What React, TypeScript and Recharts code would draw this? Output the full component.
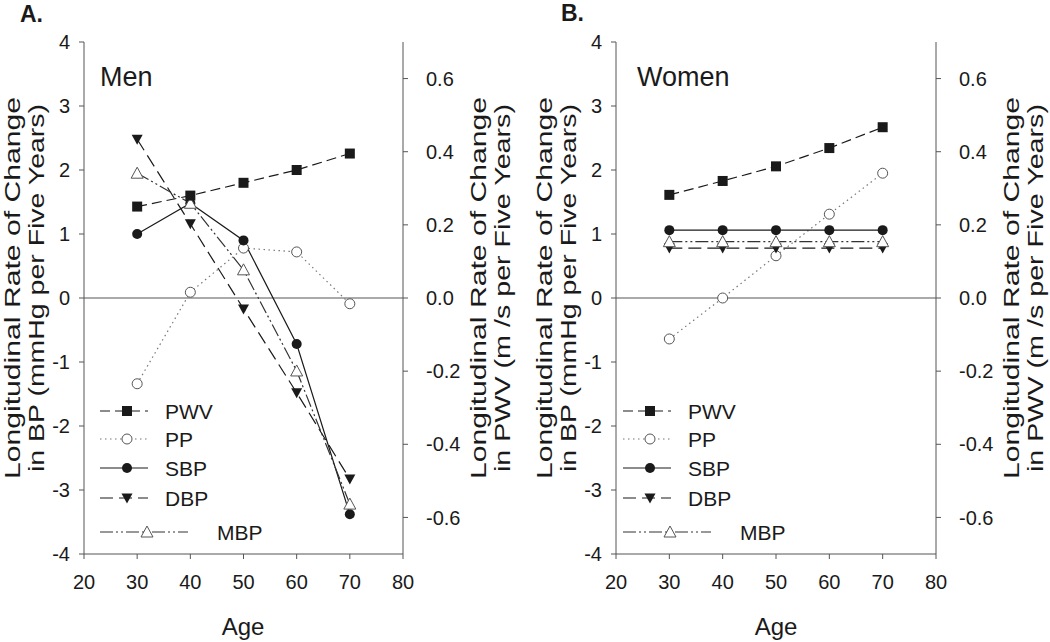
import React from 'react';
import { LineChart, Line, XAxis, YAxis, ReferenceLine, Legend } from 'recharts';

// values (BP in mmHg per 5 yrs, PWV in m/s per 5 yrs)
const ages = [30, 40, 50, 60, 70];

const menPWV = [0.25, 0.28, 0.315, 0.35, 0.395];
const menPP = [-1.34, 0.09, 0.78, 0.72, -0.09];
const menSBP = [1.0, 1.48, 0.9, -0.72, -3.38];
const menDBP = [2.48, 1.16, -0.17, -1.48, -2.83];
const menMBP = [1.95, 1.48, 0.44, -1.14, -3.22];

const womenPWV = [0.282, 0.32, 0.36, 0.41, 0.467];
const womenPP = [-0.64, 0.0, 0.66, 1.31, 1.95];
const womenSBP = [1.06, 1.06, 1.06, 1.06, 1.06];
const womenDBP = [0.78, 0.78, 0.78, 0.78, 0.78];
const womenMBP = [0.88, 0.88, 0.88, 0.88, 0.88];

const ageTicks = [20, 30, 40, 50, 60, 70, 80];
const bpTicks = [-4, -3, -2, -1, 0, 1, 2, 3, 4];
const pwvTicks = [-0.6, -0.4, -0.2, 0, 0.2, 0.4, 0.6];

const FONT = '"Liberation Sans", Arial, sans-serif';
const INK = '#1a1a1a';
const AXIS = '#555';

type Shape = 'square' | 'openCircle' | 'circle' | 'down' | 'openTri';

const series: { key: string; name: string; axis: string; dash?: string; color: string; shape: Shape }[] = [
  { key: 'pp', name: 'PP', axis: 'bp', dash: '1.5 3.5', color: '#777', shape: 'openCircle' },
  { key: 'sbp', name: 'SBP', axis: 'bp', color: INK, shape: 'circle' },
  { key: 'dbp', name: 'DBP', axis: 'bp', dash: '13 6', color: INK, shape: 'down' },
  { key: 'mbp', name: 'MBP', axis: 'bp', dash: '13 3 2 3 2 3', color: '#333', shape: 'openTri' },
  { key: 'pwv', name: 'PWV', axis: 'pwv', dash: '10 5', color: INK, shape: 'square' },
];
const legendOrder = ['pwv', 'pp', 'sbp', 'dbp', 'mbp'];

const buildRows = (pwv: number[], pp: number[], sbp: number[], dbp: number[], mbp: number[]) =>
  ages.map((age, i) => ({ age, pwv: pwv[i], pp: pp[i], sbp: sbp[i], dbp: dbp[i], mbp: mbp[i] }));

const menRows = buildRows(menPWV, menPP, menSBP, menDBP, menMBP);
const womenRows = buildRows(womenPWV, womenPP, womenSBP, womenDBP, womenMBP);

function Marker({ shape, cx, cy }: { shape: Shape; cx: number; cy: number }) {
  switch (shape) {
    case 'square':
      return <rect x={cx - 5} y={cy - 5} width={10} height={10} fill={INK} />;
    case 'openCircle':
      return <circle cx={cx} cy={cy} r={5} fill="#fff" stroke="#555" strokeWidth={1} />;
    case 'circle':
      return <circle cx={cx} cy={cy} r={5} fill={INK} />;
    case 'down':
      return <polygon points={`${cx - 5.5},${cy - 4.5} ${cx + 5.5},${cy - 4.5} ${cx},${cy + 5.5}`} fill={INK} />;
    default:
      return (
        <polygon
          points={`${cx},${cy - 6} ${cx + 6},${cy + 5} ${cx - 6},${cy + 5}`}
          fill="#fff"
          stroke="#555"
          strokeWidth={1}
        />
      );
  }
}

const rowY = [16, 44, 73, 103, 137];

function LegendBox() {
  return (
    <svg width={200} height={160} style={{ overflow: 'visible' }}>
      {legendOrder.map((k, i) => {
        const s = series.find((d) => d.key === k)!;
        const long = k === 'mbp';
        const lineEnd = long ? 88 : 48;
        const mx = long ? 47 : 27;
        const tx = long ? 117 : 65;
        const y = rowY[i];
        return (
          <g key={k}>
            <line x1={0} x2={lineEnd} y1={y} y2={y} stroke={s.color} strokeWidth={1.2} strokeDasharray={s.dash} />
            <Marker shape={s.shape} cx={mx} cy={y} />
            <text x={tx} y={y + 7.5} fontSize={21} fontFamily={FONT} fill={INK}>
              {s.name}
            </text>
          </g>
        );
      })}
    </svg>
  );
}

function Panel({ rows, left, marginLeft, marginRight, legendLeft }: {
  rows: any[];
  left: number;
  marginLeft: number;
  marginRight: number;
  legendLeft: number;
}) {
  const tick = { fill: INK, fontSize: 20, fontFamily: FONT };
  return (
    <div style={{ position: 'absolute', left, top: 0 }}>
      <LineChart
        width={525}
        height={642}
        data={rows}
        margin={{ top: 42, right: marginRight, bottom: 48, left: marginLeft }}
      >
        <XAxis
          dataKey="age"
          type="number"
          domain={[20, 80]}
          ticks={ageTicks}
          height={40}
          tickSize={5}
          tickMargin={16}
          stroke={AXIS}
          tick={tick}
        />
        <YAxis
          yAxisId="bp"
          domain={[-4, 4]}
          ticks={bpTicks}
          width={60}
          tickSize={5}
          tickMargin={9}
          stroke={AXIS}
          tick={tick}
        />
        <YAxis
          yAxisId="pwv"
          orientation="right"
          domain={[-0.7, 0.7]}
          ticks={pwvTicks}
          width={60}
          tickSize={5}
          tickMargin={18}
          stroke={AXIS}
          tick={tick}
          tickFormatter={(v: number) => v.toFixed(1)}
        />
        <ReferenceLine yAxisId="bp" y={0} stroke={AXIS} strokeWidth={1} />
        {series.map((s) => (
          <Line
            key={s.key}
            yAxisId={s.axis}
            dataKey={s.key}
            name={s.name}
            type="linear"
            stroke={s.color}
            strokeWidth={1.2}
            strokeDasharray={s.dash}
            isAnimationActive={false}
            dot={(p: any) => <Marker key={`${s.key}-${p.index}`} shape={s.shape} cx={p.cx} cy={p.cy} />}
            activeDot={false}
          />
        ))}
        <Legend
          layout="vertical"
          align="center"
          verticalAlign="middle"
          content={() => <LegendBox />}
          wrapperStyle={{ left: legendLeft, top: 395, width: 200, height: 160 }}
        />
      </LineChart>
    </div>
  );
}

function Titles() {
  const t = { fontFamily: FONT, fill: INK };
  const title = (x: number, lines: string[]) => (
    <g transform={`translate(${x},288) rotate(-90)`}>
      <text x={0} y={0} textAnchor="middle" fontSize={22} textLength={382} lengthAdjust="spacingAndGlyphs" {...t}>
        {lines[0]}
      </text>
      <text x={0} y={24} textAnchor="middle" fontSize={22} textLength={368} lengthAdjust="spacingAndGlyphs" {...t}>
        {lines[1]}
      </text>
    </g>
  );
  const bp = ['Longitudinal Rate of Change', 'in BP (mmHg per Five Years)'];
  const pwv = ['Longitudinal Rate of Change', 'in PWV (m /s per Five Years)'];
  return (
    <svg width={1050} height={642} style={{ position: 'absolute', left: 0, top: 0, pointerEvents: 'none' }}>
      <text x={20} y={22} fontSize={23} fontWeight="bold" {...t}>A.</text>
      <text x={561} y={21} fontSize={23} fontWeight="bold" {...t}>B.</text>
      <text x={100} y={86} fontSize={27} {...t}>Men</text>
      <text x={637} y={86} fontSize={27} {...t}>Women</text>
      <text x={243} y={635} textAnchor="middle" fontSize={24} {...t}>Age</text>
      <text x={776} y={635} textAnchor="middle" fontSize={24} {...t}>Age</text>
      {title(20, bp)}
      {title(552, bp)}
      {title(486, pwv)}
      {title(1019, pwv)}
    </svg>
  );
}

export default function App() {
  return (
    <div style={{ position: 'absolute', left: 0, top: 0, width: 1050, height: 642, background: '#fff' }}>
      <Panel rows={menRows} left={0} marginLeft={24} marginRight={62} legendLeft={100} />
      <Panel rows={womenRows} left={525} marginLeft={31} marginRight={54} legendLeft={98} />
      <Titles />
    </div>
  );
}
